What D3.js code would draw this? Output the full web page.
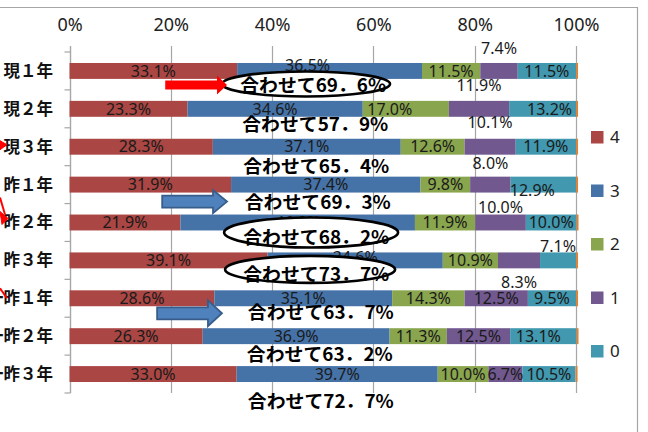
<!DOCTYPE html>
<html><head><meta charset="utf-8">
<script src="https://cdn.jsdelivr.net/npm/d3@7"></script>
<style>
html,body{margin:0;padding:0;background:#fff;}
svg{display:block;}
</style></head>
<body>
<svg id="chart" width="648" height="432"></svg>
<script>
// ---- data ----
const categories = ["現１年","現２年","現３年","昨１年","昨２年","昨３年","一昨１年","一昨２年","一昨３年"];
const seriesKeys = ["4","3","2","1","0"];
const values4 = [33.1,23.3,28.3,31.9,21.9,39.1,28.6,26.3,33.0];
const values3 = [36.5,34.6,37.1,37.4,46.3,34.6,35.1,36.9,39.7];
const values2 = [11.5,17.0,12.6,9.8,11.9,10.9,14.3,11.3,10.0];
const values1 = [7.4,11.9,10.1,8.0,10.0,8.3,12.5,12.5,6.7];
const values0 = [11.5,13.2,11.9,12.9,10.0,7.1,9.5,13.1,10.5];
const valuesNA = [0.4,0.4,0.4,0.4,0.4,0.4,0.4,0.4,0.4];
const tickValues = [0,20,40,60,80,100];
const colors = ["#AA4643","#4572A7","#89A54E","#71588F","#4198AF","#DB843D"];

// label nudges (row, series index, dx px, dy px)
const labelNudges = [
  [0,1,-22,-6],[0,3,0,-23],
  [1,2,-16,0],[1,3,0,-24],[1,4,7,0],
  [2,3,0,-24],
  [3,3,0,-21],[3,4,-11,6],
  [4,3,0,-15],
  [5,1,0,-3],[5,3,0,22],[5,4,0,-14],
  [7,4,-5,0]
];
// annotation layout: x start (% units), dy from band centre (px)
const annX = [33.7,34.1,34.3,34.6,34.3,34.3,35.2,35.0,35.2];
const annDy = [14,16,20,18,15,14,14,18,27];
// ellipses: row, cx (%), dy, rx, ry
const ellipses = [[0,46.7,13,84,12.5],[4,47.7,10,87,15],[5,47.5,9,85,13.5]];

// ---- layout ----
const svg = d3.select("#chart");
const W = 648, H = 432;
const plot = {left:69.5, right:576, top:52, bottom:393};
const x = d3.scaleLinear().domain([0,100]).range([plot.left, plot.right]);
const y = d3.scaleBand().domain(categories).range([plot.top, plot.bottom]).paddingInner(0.58).paddingOuter(0.29);
const yb = d3.scaleBand().domain(categories).range([plot.top, plot.bottom]);

svg.append("rect").attr("width",W).attr("height",H).attr("fill","#fff");

// outer frame
svg.append("path").attr("d",`M0,7.5H637.5V432`).attr("fill","none").attr("stroke","#a6a6a6").attr("stroke-width",1.2);

// gridlines + top axis
const gx = svg.append("g");
gx.selectAll("line").data(tickValues).join("line")
  .attr("x1",d=>Math.round(x(d))+0.5).attr("x2",d=>Math.round(x(d))+0.5)
  .attr("y1",plot.top-6).attr("y2",plot.bottom)
  .attr("stroke","#a6a6a6").attr("stroke-width",1.2);
const topAxis = d3.axisTop(x).tickValues(tickValues).tickFormat(d=>d+"%").tickSize(0).tickPadding(0);
const ta = svg.append("g").attr("transform",`translate(0,31)`).call(topAxis);
ta.select(".domain").remove();
ta.selectAll("text").attr("font-family","'Noto Sans','Liberation Sans',sans-serif").attr("font-size",18).attr("fill","#222");

// left category axis
const leftX = Math.round(plot.left)+0.5;
svg.append("line").attr("x1",leftX).attr("x2",leftX).attr("y1",plot.top-6).attr("y2",plot.bottom).attr("stroke","#a6a6a6").attr("stroke-width",1.2);
const bounds = categories.map(c=>yb(c)).concat([plot.bottom]);
svg.append("g").selectAll("line").data(bounds).join("line")
  .attr("x1",leftX-6).attr("x2",leftX).attr("y1",d=>d).attr("y2",d=>d)
  .attr("stroke","#a6a6a6").attr("stroke-width",1.2);
svg.append("g").selectAll("text").data(categories).join("text")
  .attr("x",53).attr("y",d=>yb(d)+yb.bandwidth()/2).attr("dy","0.36em")
  .attr("text-anchor","end")
  .attr("font-family","'Noto Sans CJK JP',sans-serif").attr("font-weight",700).attr("font-size",16.5)
  .attr("fill","#111").text(d=>d);

// bars
const rows = categories.map((c,i)=>({cat:c, vals:[values4[i],values3[i],values2[i],values1[i],values0[i],valuesNA[i]]}));
const segs = [];
rows.forEach((r,ri)=>{
  let acc = 0;
  r.vals.forEach((v,si)=>{ segs.push({ri, si, cat:r.cat, x0:acc, x1:acc+v, v}); acc += v; });
});
svg.append("g").selectAll("rect").data(segs).join("rect")
  .attr("x",d=>x(d.x0)).attr("width",d=>x(d.x1)-x(d.x0))
  .attr("y",d=>y(d.cat)).attr("height",y.bandwidth())
  .attr("fill",d=>colors[d.si]);

// data labels
const nudge = {};
labelNudges.forEach(([r,s,dx,dy])=>{ nudge[r+"_"+s]=[dx,dy]; });
svg.append("g").selectAll("text").data(segs.filter(d=>d.si<5)).join("text")
  .attr("x",d=>(x(d.x0)+x(d.x1))/2 + (nudge[d.ri+"_"+d.si]||[0,0])[0])
  .attr("y",d=>y(d.cat)+y.bandwidth()/2 + (nudge[d.ri+"_"+d.si]||[0,0])[1])
  .attr("dy","0.36em").attr("text-anchor","middle")
  .attr("font-family","'Noto Sans','Liberation Sans',sans-serif").attr("font-size",16)
  .attr("fill","#1a1a1a").text(d=>d.v.toFixed(1)+"%");

// ellipses (white filled)
svg.append("g").selectAll("ellipse").data(ellipses).join("ellipse")
  .attr("cx",d=>x(d[1])).attr("cy",d=>yb(categories[d[0]])+yb.bandwidth()/2+d[2])
  .attr("rx",d=>d[3]).attr("ry",d=>d[4])
  .attr("fill","#fff").attr("stroke","#000").attr("stroke-width",2.6);

// annotation texts
svg.append("g").selectAll("text").data(categories).join("text")
  .attr("x",(d,i)=>x(annX[i])).attr("y",(d,i)=>yb(d)+yb.bandwidth()/2+annDy[i]).attr("dy","0.36em")
  .attr("font-family","'Noto Sans CJK JP',sans-serif").attr("font-weight",700).attr("font-size",18.5)
  .attr("textLength",146).attr("lengthAdjust","spacingAndGlyphs")
  .attr("fill","#000")
  .text((d,i)=>"合わせて"+(values4[i]+values3[i]).toFixed(1).replace(".","．")+"%");

// block arrows
function blockArrow(x0, x1, headLen, cy, shaftH, headH){
  const hb = x1-headLen;
  return `M${x0},${cy-shaftH/2}H${hb}V${cy-headH/2}L${x1},${cy}L${hb},${cy+headH/2}V${cy+shaftH/2}H${x0}Z`;
}
const rowC = i => yb(categories[i])+yb.bandwidth()/2;
// red arrow to row 1 annotation
svg.append("path").attr("d",blockArrow(x(18.9),x(31.1),10,rowC(0)+14,9,19)).attr("fill","#FF0000");
// blue arrows
svg.append("path").attr("d",blockArrow(x(18.3),x(31.1),14,rowC(3)+17,12,23))
  .attr("fill","#4F81BD").attr("stroke","#385D8A").attr("stroke-width",1.8);
svg.append("path").attr("d",blockArrow(x(17.3),x(30.1),14,rowC(6)+15,12,26))
  .attr("fill","#4F81BD").attr("stroke","#385D8A").attr("stroke-width",1.8);

// red arrow fragments at the left edge
const redG = svg.append("g").attr("fill","#FF0000").attr("stroke","#FF0000");
redG.append("path").attr("d",`M0,${rowC(2)-6}L7,${rowC(2)-2}L0,${rowC(2)+3}Z`);
redG.append("line").attr("x1",0).attr("y1",rowC(4)-25).attr("x2",5).attr("y2",rowC(4)-8).attr("stroke-width",2);
redG.append("path").attr("d",`M0,${rowC(4)-11}L8,${rowC(4)-4}L2,${rowC(4)+2}Z`);
redG.append("line").attr("x1",0).attr("y1",rowC(6)-10).attr("x2",7).attr("y2",rowC(6)).attr("stroke-width",2);

// legend
const lg = svg.append("g");
seriesKeys.forEach((k,i)=>{
  const cy = 137 + i*53.5;
  lg.append("rect").attr("x",591).attr("y",cy-6).attr("width",12.5).attr("height",12.5).attr("fill",colors[i]);
  lg.append("text").attr("x",610).attr("y",cy).attr("dy","0.36em")
    .attr("font-family","'Noto Sans','Liberation Sans',sans-serif").attr("font-size",17).attr("fill","#222").text(k);
});
</script>
</body></html>
